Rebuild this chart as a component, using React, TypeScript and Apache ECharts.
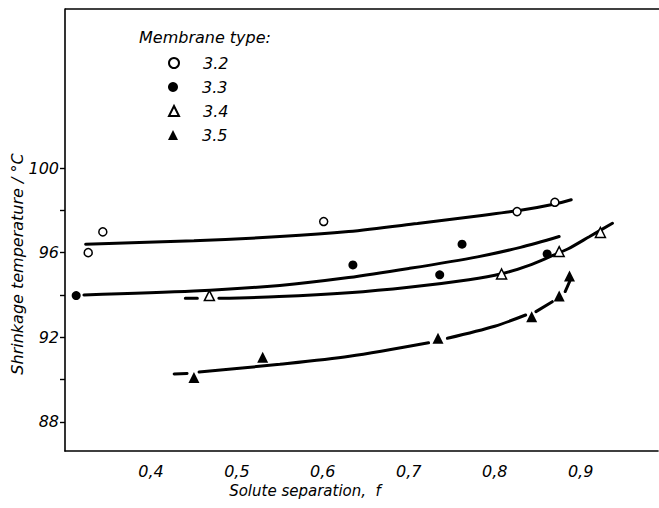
import React, { useEffect, useRef } from "react";
import * as echarts from "echarts";

// Membrane types
const typeNames = ["3.2", "3.3", "3.4", "3.5"];

// Measured points: solute separation f, shrinkage temperature (°C)
const f32 = [0.327, 0.344, 0.601, 0.826, 0.87];
const t32 = [96.0, 96.98, 97.47, 97.94, 98.38];
const f33 = [0.313, 0.635, 0.736, 0.762, 0.861];
const t33 = [93.97, 95.42, 94.95, 96.4, 95.94];
const f34 = [0.468, 0.808, 0.875, 0.923];
const t34 = [93.97, 94.99, 96.05, 96.95];
const f35 = [0.45, 0.53, 0.734, 0.843, 0.875, 0.887];
const t35 = [90.09, 91.05, 91.95, 92.97, 93.95, 94.9];

// Hand-drawn trend curves (null = break in the drawn line)
const curve32: (number[] | null)[] = [
  [0.324, 96.4], [0.45, 96.56], [0.55, 96.76], [0.63, 97.0], [0.71, 97.38],
  [0.785, 97.76], [0.83, 98.0], [0.87, 98.3], [0.889, 98.5],
];
const curve33: (number[] | null)[] = [
  [0.322, 94.0], [0.45, 94.18], [0.55, 94.45], [0.63, 94.82], [0.7, 95.25],
  [0.78, 95.8], [0.83, 96.25], [0.875, 96.76],
];
const curve34: (number[] | null)[] = [
  [0.44, 93.84], [0.454, 93.84], null,
  [0.479, 93.84], [0.549, 93.92], [0.63, 94.1], [0.7, 94.36], [0.77, 94.72],
  [0.808, 95.0], [0.84, 95.4], [0.865, 95.82], [0.885, 96.17], [0.91, 96.75], [0.937, 97.39],
];
const curve35: (number[] | null)[] = [
  [0.427, 90.26], [0.442, 90.29], null,
  [0.456, 90.35], [0.55, 90.72], [0.631, 91.1], [0.723, 91.74], null,
  [0.745, 91.95], [0.8, 92.52], [0.836, 93.05], null,
  [0.848, 93.21], [0.867, 93.68], null,
  [0.882, 94.16], [0.888, 94.71],
];

// Axis ticks and labels
const xLabelValues = [0.4, 0.5, 0.6, 0.7, 0.8, 0.9];
const yTickValues = [88, 90, 92, 94, 96, 98, 100];
const yLabelValues = [88, 92, 96, 100];

export default function App() {
  const ref = useRef<HTMLDivElement>(null);
  useEffect(() => {
    const chart = echarts.init(ref.current!, null, { renderer: "svg" });
    const font = "DejaVu Sans";
    const openStyle = { color: "#fff", borderColor: "#000", borderWidth: 1.5, opacity: 1 };
    const filledStyle = { color: "#000", borderColor: "#000", borderWidth: 0, opacity: 1 };
    const pts = (f: number[], t: number[]) => f.map((v, i) => [v, t[i]]);
    const scatterDefs = [
      { data: pts(f32, t32), symbol: "circle", size: 8, style: openStyle },
      { data: pts(f33, t33), symbol: "circle", size: 9, style: filledStyle },
      { data: pts(f34, t34), symbol: "triangle", size: 10, style: openStyle },
      { data: pts(f35, t35), symbol: "triangle", size: 11, style: filledStyle },
    ];
    const curves = [curve32, curve33, curve34, curve35];
    const axisLineStyle = { color: "#000", width: 1.6 };
    const labelStyle = {
      color: "#000",
      fontFamily: font,
      fontStyle: "italic" as const,
      fontSize: 16,
    };

    chart.setOption({
      animation: false,
      backgroundColor: "#fff",
      grid: { left: 65, top: 9, right: 1, bottom: 57, containLabel: false },
      xAxis: {
        type: "value",
        min: 0.3,
        max: 0.99,
        axisLine: { show: true, lineStyle: axisLineStyle },
        axisTick: { show: false },
        splitLine: { show: false },
        axisLabel: {
          ...labelStyle,
          customValues: xLabelValues,
          margin: 12,
          formatter: (v: number) => v.toFixed(1).replace(".", ","),
        },
      },
      yAxis: {
        type: "value",
        min: 86.62,
        max: 107.52,
        axisLine: { show: true, lineStyle: axisLineStyle },
        axisTick: {
          show: true,
          customValues: yTickValues,
          length: 5,
          lineStyle: { color: "#000", width: 1.4 },
        },
        splitLine: { show: false },
        axisLabel: {
          ...labelStyle,
          customValues: yLabelValues,
          margin: 6,
          formatter: (v: number) => String(Math.round(v)),
        },
      },
      legend: typeNames.map((n, i) => ({
        data: [n],
        orient: "vertical",
        left: 163,
        top: 49 + i * 24,
        itemWidth: 10,
        itemHeight: 10,
        itemGap: 0,
        selectedMode: false,
        textStyle: { ...labelStyle, lineHeight: 18, padding: [0, 0, 0, 19] },
      })),
      graphic: [
        {
          type: "line",
          shape: { x1: 65, y1: 9, x2: 659, y2: 9 },
          style: { stroke: "#000", lineWidth: 1.6 },
        },
        {
          type: "text",
          x: 139,
          y: 37,
          style: {
            text: "Membrane type:",
            fill: "#000",
            font: `italic 16px "${font}"`,
            textAlign: "left",
            textVerticalAlign: "middle",
          },
        },
        {
          type: "text",
          x: 17,
          y: 264,
          rotation: Math.PI / 2,
          style: {
            text: "Shrinkage temperature / °C",
            fill: "#000",
            font: `italic 16px "${font}"`,
            textAlign: "center",
            textVerticalAlign: "middle",
          },
        },
        {
          type: "text",
          x: 305,
          y: 491,
          style: {
            text: "Solute separation,  f",
            fill: "#000",
            font: `italic 15px "${font}"`,
            textAlign: "center",
            textVerticalAlign: "middle",
          },
        },
      ],
      series: [
        ...curves.map((c, i) => ({
          name: "curve " + typeNames[i],
          type: "line",
          data: c.map((p) => (p ? p : [null, null])),
          smooth: 0.3,
          connectNulls: false,
          showSymbol: false,
          symbol: "none",
          lineStyle: { color: "#000", width: 3, cap: "round" },
          silent: true,
          z: 2,
        })),
        ...scatterDefs.map((s, i) => ({
          name: typeNames[i],
          type: "scatter",
          data: s.data,
          symbol: s.symbol,
          symbolSize: s.size,
          itemStyle: s.style,
          z: 3,
        })),
      ],
    });
    return () => chart.dispose();
  }, []);
  return (
    <div
      ref={ref}
      style={{ position: "absolute", left: 0, top: 0, width: 659, height: 508 }}
    />
  );
}
